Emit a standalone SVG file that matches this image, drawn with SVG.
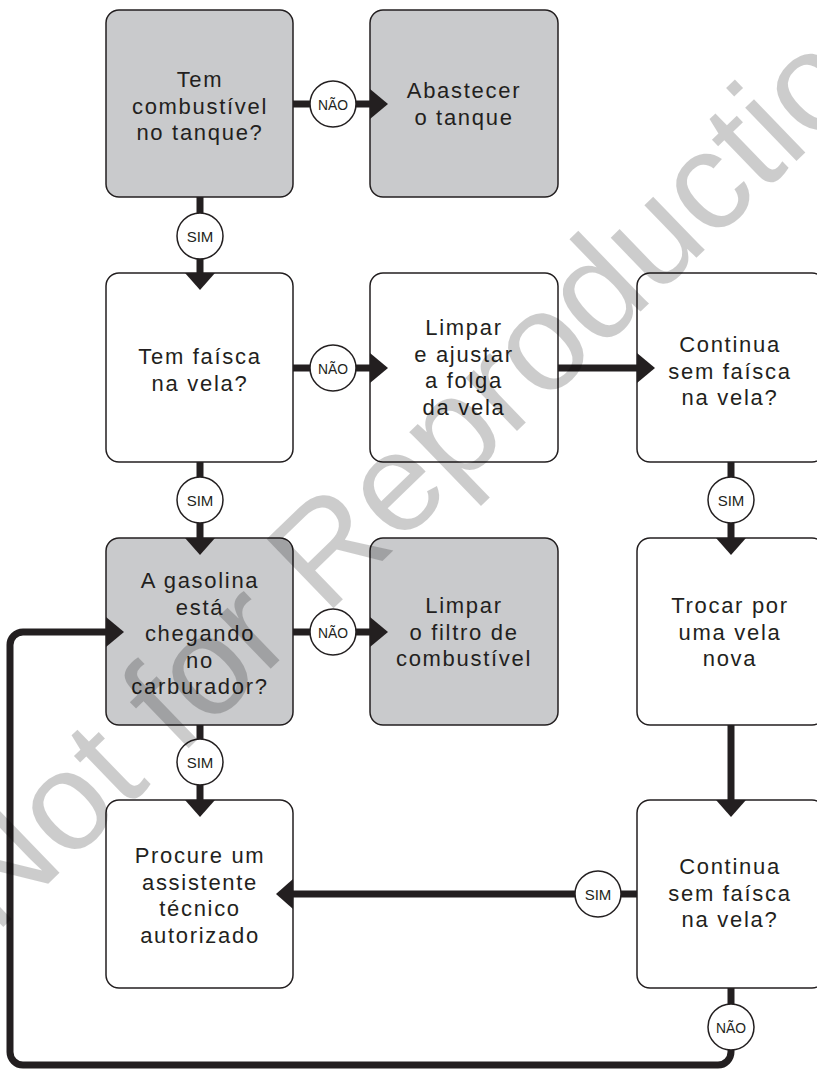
<svg xmlns="http://www.w3.org/2000/svg" width="817" height="1070" viewBox="0 0 817 1070">
<style>
.box{stroke:#231f20;stroke-width:1.5}
.g{fill:#c9cacc}
.w{fill:#ffffff}
.t{font-family:"Liberation Sans",Arial,sans-serif;font-size:22px;letter-spacing:1.7px;fill:#231f20;text-anchor:middle}
.ln{fill:none;stroke:#231f20;stroke-width:7}
.ah{fill:#231f20}
.c{fill:#ffffff;stroke:#231f20;stroke-width:1.5}
.cl{font-family:"Liberation Sans",Arial,sans-serif;font-size:15px;fill:#231f20;text-anchor:middle}
.wm{font-family:"Liberation Sans",Arial,sans-serif;font-size:140px;fill:#000000;fill-opacity:0.2}
</style>
<rect width="817" height="1070" fill="#ffffff"/>
<g id="node-combustivel">
<rect class="box g" x="106" y="10" width="187" height="187" rx="13"/>
<text class="t"><tspan x="200" y="87">Tem</tspan><tspan x="200" y="113.5">combustível</tspan><tspan x="200" y="140">no tanque?</tspan></text>
</g>
<g id="node-abastecer">
<rect class="box g" x="370" y="10" width="188" height="187" rx="13"/>
<text class="t"><tspan x="464" y="98">Abastecer</tspan><tspan x="464" y="124.5">o tanque</tspan></text>
</g>
<g id="node-faisca">
<rect class="box w" x="106" y="273" width="187" height="189" rx="13"/>
<text class="t"><tspan x="200" y="364">Tem faísca</tspan><tspan x="200" y="390.5">na vela?</tspan></text>
</g>
<g id="node-limpar-vela">
<rect class="box w" x="370" y="273" width="188" height="189" rx="13"/>
<text class="t"><tspan x="464" y="335">Limpar</tspan><tspan x="464" y="361.5">e ajustar</tspan><tspan x="464" y="388">a folga</tspan><tspan x="464" y="414.5">da vela</tspan></text>
</g>
<g id="node-continua1">
<rect class="box w" x="637" y="273" width="188" height="189" rx="13"/>
<text class="t"><tspan x="730" y="352">Continua</tspan><tspan x="730" y="378.5">sem faísca</tspan><tspan x="730" y="405">na vela?</tspan></text>
</g>
<g id="node-gasolina">
<rect class="box g" x="106" y="538" width="187" height="187" rx="13"/>
<text class="t"><tspan x="200" y="588">A gasolina</tspan><tspan x="200" y="614.5">está</tspan><tspan x="200" y="641">chegando</tspan><tspan x="200" y="667.5">no</tspan><tspan x="200" y="694">carburador?</tspan></text>
</g>
<g id="node-filtro">
<rect class="box g" x="370" y="538" width="188" height="187" rx="13"/>
<text class="t"><tspan x="464" y="613">Limpar</tspan><tspan x="464" y="639.5">o filtro de</tspan><tspan x="464" y="666">combustível</tspan></text>
</g>
<g id="node-trocar">
<rect class="box w" x="637" y="538" width="188" height="187" rx="13"/>
<text class="t"><tspan x="730" y="613">Trocar por</tspan><tspan x="730" y="639.5">uma vela</tspan><tspan x="730" y="666">nova</tspan></text>
</g>
<g id="node-assistente">
<rect class="box w" x="106" y="800" width="187" height="188" rx="13"/>
<text class="t"><tspan x="200" y="863">Procure um</tspan><tspan x="200" y="889.5">assistente</tspan><tspan x="200" y="916">técnico</tspan><tspan x="200" y="942.5">autorizado</tspan></text>
</g>
<g id="node-continua2">
<rect class="box w" x="637" y="800" width="188" height="188" rx="13"/>
<text class="t"><tspan x="730" y="874">Continua</tspan><tspan x="730" y="900.5">sem faísca</tspan><tspan x="730" y="927">na vela?</tspan></text>
</g>
<g id="connectors">
<line class="ln" x1="293" y1="104" x2="372" y2="104"/>
<polygon class="ah" points="370,89 388,104 370,119"/>
<line class="ln" x1="200" y1="197" x2="200" y2="275"/>
<polygon class="ah" points="185,273 215,273 200,290"/>
<line class="ln" x1="293" y1="368" x2="372" y2="368"/>
<polygon class="ah" points="370,353 388,368 370,383"/>
<line class="ln" x1="558" y1="368" x2="639" y2="368"/>
<polygon class="ah" points="637,353 655,368 637,383"/>
<line class="ln" x1="200" y1="462" x2="200" y2="540"/>
<polygon class="ah" points="185,538 215,538 200,555"/>
<line class="ln" x1="731" y1="462" x2="731" y2="540"/>
<polygon class="ah" points="716,538 746,538 731,555"/>
<line class="ln" x1="293" y1="632" x2="372" y2="632"/>
<polygon class="ah" points="370,617 388,632 370,647"/>
<line class="ln" x1="200" y1="725" x2="200" y2="802"/>
<polygon class="ah" points="185,800 215,800 200,817"/>
<line class="ln" x1="731" y1="725" x2="731" y2="802"/>
<polygon class="ah" points="716,800 746,800 731,817"/>
<line class="ln" x1="637" y1="894" x2="291" y2="894"/>
<polygon class="ah" points="293,879 276,894 293,909"/>
<path class="ln" d="M731,988 L731,1052 A13,13 0 0 1 718,1065 L23,1065 A13,13 0 0 1 10,1052 L10,645 A13,13 0 0 1 23,632 L108,632"/>
<polygon class="ah" points="106,617 124,632 106,647"/>
<circle class="c" cx="333" cy="104" r="23"/>
<text class="cl" x="333" y="109.5" textLength="30" lengthAdjust="spacingAndGlyphs">NÃO</text>
<circle class="c" cx="200" cy="236" r="23"/>
<text class="cl" x="200" y="241.5">SIM</text>
<circle class="c" cx="333" cy="368" r="23"/>
<text class="cl" x="333" y="373.5" textLength="30" lengthAdjust="spacingAndGlyphs">NÃO</text>
<circle class="c" cx="200" cy="500" r="23"/>
<text class="cl" x="200" y="505.5">SIM</text>
<circle class="c" cx="731" cy="500" r="23"/>
<text class="cl" x="731" y="505.5">SIM</text>
<circle class="c" cx="333" cy="632" r="23"/>
<text class="cl" x="333" y="637.5" textLength="30" lengthAdjust="spacingAndGlyphs">NÃO</text>
<circle class="c" cx="200" cy="762" r="23"/>
<text class="cl" x="200" y="767.5">SIM</text>
<circle class="c" cx="598" cy="894" r="23"/>
<text class="cl" x="598" y="899.5">SIM</text>
<circle class="c" cx="731" cy="1027" r="23"/>
<text class="cl" x="731" y="1032.5" textLength="30" lengthAdjust="spacingAndGlyphs">NÃO</text>
</g>
<text class="wm" transform="translate(-5,935) rotate(-44)" x="0" y="0">Not for Reproduction</text>
</svg>
